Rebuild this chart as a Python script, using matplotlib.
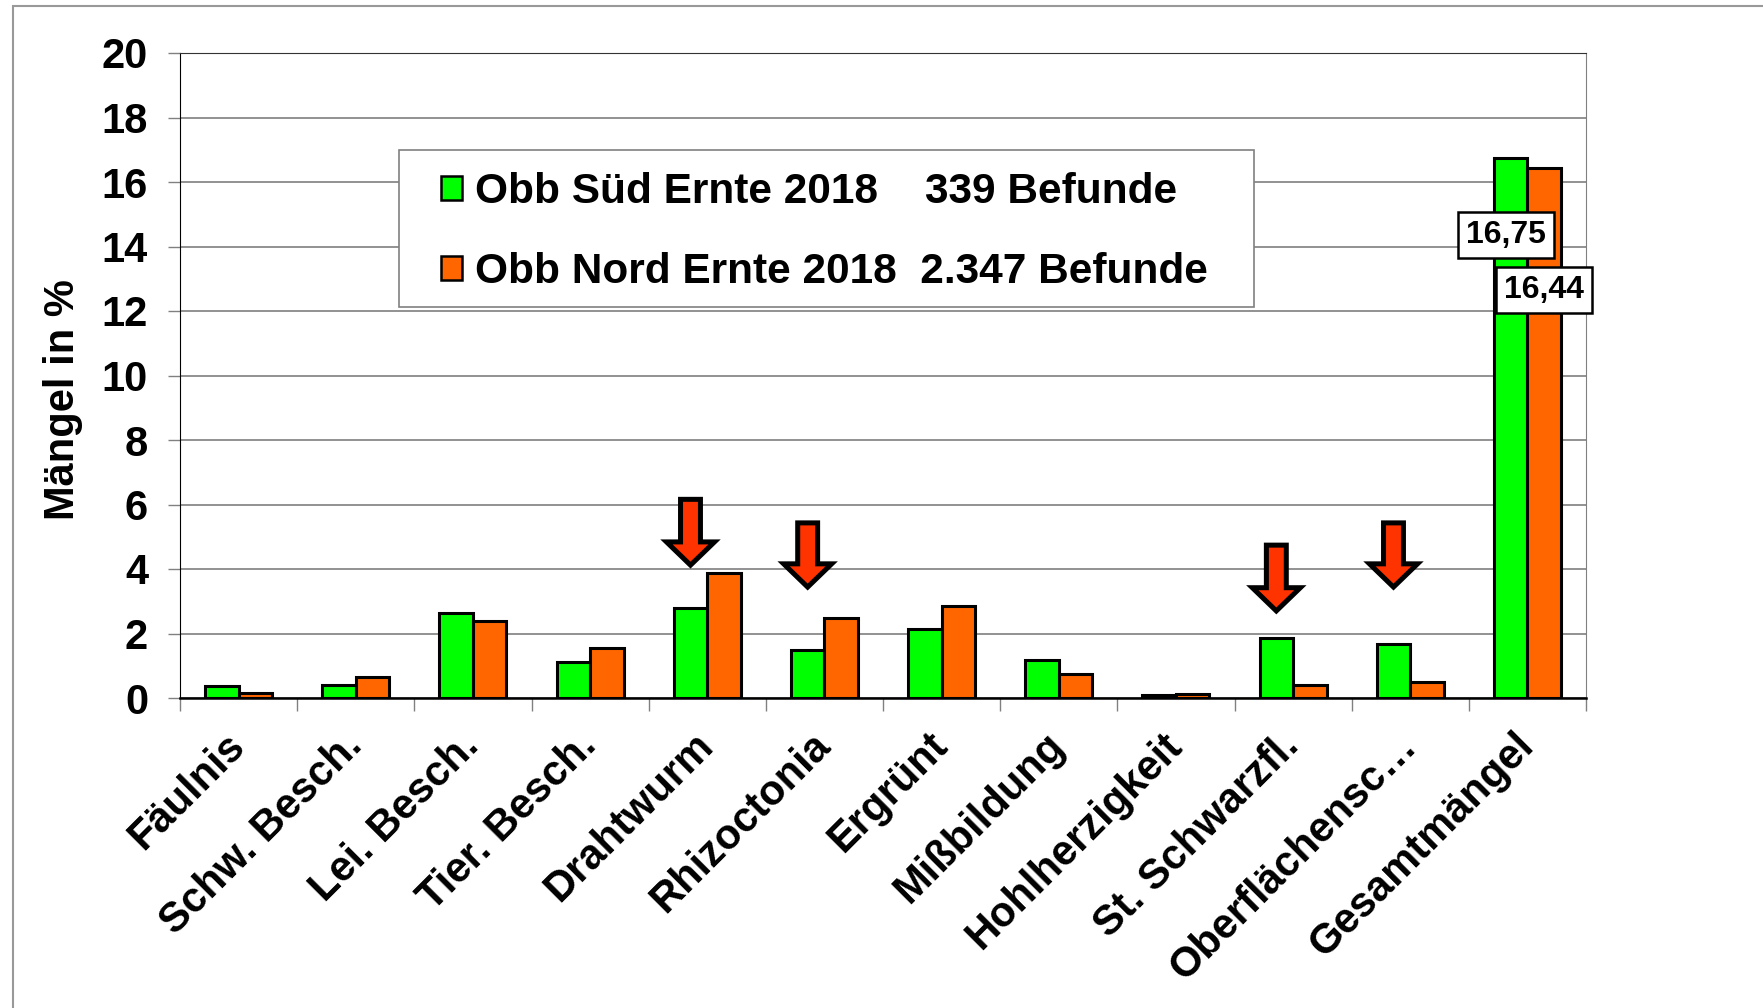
import matplotlib.pyplot as plt
from matplotlib.patches import Rectangle, Polygon
import numpy as np

plt.rcParams['font.family'] = ['Liberation Sans', 'DejaVu Sans']

# data
categories = ["Fäulnis", "Schw. Besch.", "Lei. Besch.", "Tier. Besch.", "Drahtwurm",
              "Rhizoctonia", "Ergrünt", "Mißbildung", "Hohlherzigkeit", "St. Schwarzfl.",
              "Oberflächensc…", "Gesamtmängel"]
sued = [0.37, 0.40, 2.64, 1.13, 2.80, 1.50, 2.14, 1.18, 0.10, 1.86, 1.67, 16.75]
nord = [0.16, 0.65, 2.39, 1.56, 3.87, 2.48, 2.85, 0.74, 0.13, 0.40, 0.50, 16.44]
label_sued = "Obb Süd Ernte 2018    339 Befunde"
label_nord = "Obb Nord Ernte 2018  2.347 Befunde"
value_labels = ["16,75", "16,44"]

# red arrows pointing at the green bars
arrow_cats = [4, 5, 9, 10]
arrow_tip = [4.12, 3.44, 2.70, 3.44]
arrow_top = [6.16, 5.43, 4.74, 5.43]

green = '#00FF00'
orange = '#FF6600'

fig = plt.figure(figsize=(17.63, 10.08), dpi=100)
ax = fig.add_axes([180/1763, 1-698/1008, (1586-180)/1763, (698-53)/1008])

x = np.arange(len(categories))
w = 0.286
ax.bar(x - w/2, sued, w, color=green, edgecolor='black', linewidth=2.2, zorder=3)
ax.bar(x + w/2, nord, w, color=orange, edgecolor='black', linewidth=2.2, zorder=3)

ax.set_xlim(-0.5, len(categories) - 0.5)
ax.set_ylim(0, 20)
ax.set_yticks(range(0, 21, 2))
ax.yaxis.grid(True, color='#7f7f7f', linewidth=1.2, zorder=0)
ax.set_axisbelow(True)

ax.tick_params(axis='y', length=9, width=1, color='#808080', pad=14,
               labelsize=30)
for t in ax.get_yticklabels():
    t.set_fontweight('bold')

ax.set_xticks(x)
ax.set_xticklabels(categories, rotation=45, ha='right', va='center',
                   rotation_mode='anchor', fontsize=30, fontweight='bold')
ax.tick_params(axis='x', length=0, pad=30)
ax.set_xticks(np.arange(-0.5, len(categories)), minor=True)
ax.tick_params(axis='x', which='minor', length=9, width=1, color='#808080')

ax.spines['bottom'].set_linewidth(1.8)
ax.spines['left'].set_color('black')
ax.spines['top'].set_color('#333333')
ax.spines['right'].set_color('#808080')

# arrows
for c, tip, top in zip(arrow_cats, arrow_tip, arrow_top):
    cx = c - w/2
    sh = 0.085
    hh = 0.205
    hl = 0.72
    pts = [(cx - sh, top), (cx + sh, top), (cx + sh, tip + hl), (cx + hh, tip + hl),
           (cx, tip), (cx - hh, tip + hl), (cx - sh, tip + hl)]
    ax.add_patch(Polygon(pts, closed=True, facecolor='#FF3300', edgecolor='black',
                         linewidth=3.6, joinstyle='miter', zorder=5))

# value labels on last pair
last = len(categories) - 1
ax.text(last - w/2 - 0.04, sued[last] - 2.39, value_labels[0], ha='center', va='center',
        fontsize=23, fontweight='bold', zorder=6,
        bbox=dict(boxstyle='square,pad=0.26', facecolor='white', edgecolor='black', linewidth=1.8))
ax.text(last + w/2, nord[last] - 3.79, value_labels[1], ha='center', va='center',
        fontsize=23, fontweight='bold', zorder=6,
        bbox=dict(boxstyle='square,pad=0.26', facecolor='white', edgecolor='black', linewidth=1.8))

# legend
box = Rectangle((399/1763, 1-307/1008), (1254-399)/1763, (307-150)/1008,
                transform=fig.transFigure, facecolor='white', edgecolor='#808080',
                linewidth=1.2, zorder=10)
fig.patches.append(box)
handles = [Rectangle((0, 0), 1, 1, facecolor=green, edgecolor='black', linewidth=1.8),
           Rectangle((0, 0), 1, 1, facecolor=orange, edgecolor='black', linewidth=1.8)]
leg = fig.legend(handles, [label_sued, label_nord], loc='upper left',
                 bbox_to_anchor=(441/1763, 1-172/1008), frameon=False,
                 prop={'size': 30.5, 'weight': 'bold'}, handlelength=0.5, handleheight=0.5,
                 handletextpad=0.3, labelspacing=0.95, borderpad=0, borderaxespad=0)
leg.set_zorder(11)

fig.text(63/1763, 1-400/1008, 'Mängel in %', rotation=90, ha='center', va='center',
         fontsize=30, fontweight='bold')

# outer frame
fig.patches.append(Rectangle((13/1763, -0.1), 2, 1.1 - 6/1008, transform=fig.transFigure,
                             fill=False, edgecolor='#999999', linewidth=1.5))

fig.savefig('out.png', dpi=100)
